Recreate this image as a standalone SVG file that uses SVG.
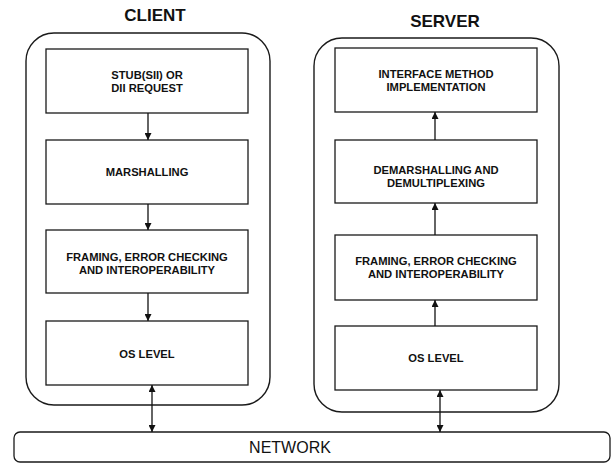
<svg xmlns="http://www.w3.org/2000/svg" width="614" height="464" viewBox="0 0 614 464">
<defs>
<marker id="ah" viewBox="0 0 10 10" refX="10" refY="5" markerWidth="7" markerHeight="7" markerUnits="userSpaceOnUse" orient="auto-start-reverse">
<path d="M0,0 L10,5 L0,10 z" fill="#111"/>
</marker>
<style>
.outer{fill:#fff;stroke:#1a1a1a;stroke-width:1.4}
.box{fill:#fff;stroke:#1a1a1a;stroke-width:1.3}
.lbl{font-family:"Liberation Sans",Arial,sans-serif;font-weight:bold;font-size:11.2px;fill:#111;text-anchor:middle}
.ttl{font-family:"Liberation Sans",Arial,sans-serif;font-weight:bold;font-size:17px;fill:#111;text-anchor:middle}
.net{font-family:"Liberation Sans",Arial,sans-serif;font-size:16px;fill:#111;text-anchor:middle}
.c{stroke:#111;stroke-width:1.3;fill:none}
</style>
</defs>
<rect width="614" height="464" fill="#fff"/>
<g id="client">
<text class="ttl" x="155" y="21">CLIENT</text>
<rect class="outer" x="26" y="33" width="244" height="372" rx="28"/>
</g>
<g id="server">
<text class="ttl" x="445" y="27">SERVER</text>
<rect class="outer" x="314" y="38" width="245" height="374" rx="28"/>
</g>
<g id="c-stub">
<rect class="box" x="46" y="49" width="202" height="64"/>
<text class="lbl" x="147" y="79">STUB(SII) OR</text>
<text class="lbl" x="147" y="92">DII REQUEST</text>
</g>
<g id="c-marshal">
<rect class="box" x="46" y="140" width="202" height="64"/>
<text class="lbl" x="147" y="176">MARSHALLING</text>
</g>
<g id="c-framing">
<rect class="box" x="46" y="230" width="202" height="63"/>
<text class="lbl" x="147" y="261">FRAMING, ERROR CHECKING</text>
<text class="lbl" x="147" y="274">AND INTEROPERABILITY</text>
</g>
<g id="c-os">
<rect class="box" x="46" y="321" width="202" height="64"/>
<text class="lbl" x="147" y="358">OS LEVEL</text>
</g>
<g id="s-impl">
<rect class="box" x="335" y="48" width="202" height="64"/>
<text class="lbl" x="436" y="78">INTERFACE METHOD</text>
<text class="lbl" x="436" y="91">IMPLEMENTATION</text>
</g>
<g id="s-demarshal">
<rect class="box" x="335" y="140" width="202" height="63"/>
<text class="lbl" x="436" y="174">DEMARSHALLING AND</text>
<text class="lbl" x="436" y="187">DEMULTIPLEXING</text>
</g>
<g id="s-framing">
<rect class="box" x="335" y="235" width="202" height="65"/>
<text class="lbl" x="436" y="265">FRAMING, ERROR CHECKING</text>
<text class="lbl" x="436" y="278">AND INTEROPERABILITY</text>
</g>
<g id="s-os">
<rect class="box" x="335" y="326" width="202" height="64"/>
<text class="lbl" x="436" y="362">OS LEVEL</text>
</g>
<g id="network">
<rect class="box" x="14" y="432" width="596" height="30" rx="6"/>
<text class="net" x="290" y="453">NETWORK</text>
</g>
<g id="connectors">
<line class="c" x1="148" y1="113" x2="148" y2="140" marker-end="url(#ah)"/>
<line class="c" x1="148" y1="204" x2="148" y2="230" marker-end="url(#ah)"/>
<line class="c" x1="148" y1="293" x2="148" y2="321" marker-end="url(#ah)"/>
<line class="c" x1="152" y1="385" x2="152" y2="432" marker-start="url(#ah)" marker-end="url(#ah)"/>
<line class="c" x1="435" y1="326" x2="435" y2="300" marker-end="url(#ah)"/>
<line class="c" x1="435" y1="235" x2="435" y2="203" marker-end="url(#ah)"/>
<line class="c" x1="435" y1="140" x2="435" y2="112" marker-end="url(#ah)"/>
<line class="c" x1="440" y1="390" x2="440" y2="432" marker-start="url(#ah)" marker-end="url(#ah)"/>
</g>
</svg>
